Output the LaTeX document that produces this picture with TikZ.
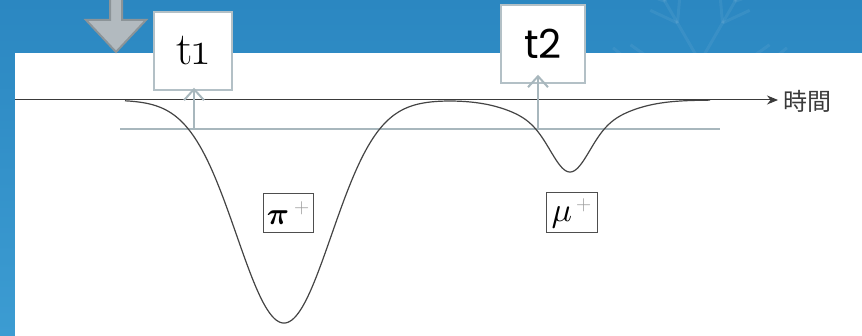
\documentclass[tikz,border=0pt]{standalone}
\usepackage{fix-cm}
\usepackage{bm}
\usepackage{fontspec}
\newfontfamily\cjk{Noto Sans CJK JP}
\newfontfamily\tonefont[Numbers=OldStyle]{Latin Modern Roman}
\newfontfamily\ttwofont{Poppins}
\usetikzlibrary{arrows.meta}
\definecolor{bgtop}{HTML}{2B87C1}
\definecolor{bgbot}{HTML}{3C9CD2}
\definecolor{paleline}{HTML}{A8B7BD}
\definecolor{boxedge}{HTML}{B3C0C6}
\definecolor{arrowfill}{HTML}{B2BABF}
\definecolor{arrowedge}{HTML}{8C9498}
\definecolor{axiscol}{HTML}{3A3A3A}
\definecolor{pluscol}{HTML}{9A9A9A}
\newcommand{\plusmark}{\raisebox{11pt}{\textcolor{pluscol}{\fontsize{21}{21}\selectfont +}}}
\tikzset{
  tbox/.style={draw=boxedge, line width=1.5pt, fill=white, inner sep=0pt},
  pbox/.style={draw=axiscol!90, line width=1pt, fill=white, inner sep=0pt,
    minimum width=50pt, minimum height=39pt},
  uparrow/.style={draw=paleline, line width=2pt, -{Straight Barb[length=11pt,width=20pt,line width=2pt]}},
  thresh/.style={draw=paleline, line width=2pt},
  axisline/.style={draw=axiscol, line width=1pt, -{Stealth[length=11pt,width=9pt]}},
  curveline/.style={draw=axiscol!95, line width=1.2pt},
  flake/.style={draw=white, opacity=0.06, line width=3pt},
  declare function={
    dipA(\x)=223*exp(-((\x-284)/67)*((\x-284)/67));
    dipB(\x)=42*exp(-((\x-570)/26)*((\x-570)/26))+30*exp(-((\x-570)/60)*((\x-570)/60));
  }
}
\begin{document}
\begin{tikzpicture}[x=1pt,y=-1pt]
\useasboundingbox (0,0) rectangle (862,336);
\shade[top color=bgtop,bottom color=bgbot] (0,0) rectangle (862,336);
% faint snowflake in the blue strip
\begin{scope}
\clip (560,0) rectangle (862,53);
\foreach \a in {0,60,...,300} {
  \draw[flake] (700,62) -- ++(\a:95);
  \draw[flake] (700,62) ++(\a:45) -- ++(\a+35:30);
  \draw[flake] (700,62) ++(\a:45) -- ++(\a-35:30);
  \draw[flake] (700,62) ++(\a:70) -- ++(\a+40:22);
  \draw[flake] (700,62) ++(\a:70) -- ++(\a-40:22);
}
\end{scope}
\fill[white] (15,53) rectangle (862,336);
% grey down arrow
\filldraw[fill=arrowfill,draw=arrowedge,line width=2pt,line join=miter]
  (110,-3) -- (122,-3) -- (122,20) -- (146,20) -- (116,52) -- (86,20) -- (110,20) -- cycle;
% time axis
\coordinate (axstart) at (15,100);
\node[inner sep=0pt, anchor=west, text=axiscol, font=\cjk\fontsize{24}{24}\selectfont] (time) at (783,101) {時間};
\draw[axisline] (axstart) -- ([xshift=-5pt]time.west |- axstart);
% threshold line
\coordinate (thl) at (120,129);
\coordinate (thr) at (720,129);
\draw[thresh] (thl) -- (thr);
% signal curve
\draw[curveline] plot[domain=125:710, samples=400, smooth] (\x, {100 + dipA(\x) + dipB(\x)});
% time boxes
\node[tbox, minimum width=78pt, minimum height=78pt, font=\tonefont\fontsize{46}{46}\selectfont] (t1) at (193,51) {t1};
\node[tbox, minimum width=84pt, minimum height=78pt, font=\ttwofont\fontsize{40}{40}\selectfont] (t2) at (543,44) {t2};
% up arrows
\coordinate (a1) at (194,129);
\coordinate (a2) at (538,129);
\draw[uparrow] (a1) -- ([yshift=3pt]a1 |- t1.south);
\draw[uparrow] (a2) -- ([yshift=9pt]a2 |- t2.south);
% particle labels
\node[pbox] (pi) at (288,213.5) {\scalebox{3.1}{$\bm{\pi}$}\hspace{5pt}\plusmark};
\node[pbox, minimum width=51pt, minimum height=40pt] (mu) at (571.5,213) {\scalebox{3.4}{$\mu$}\hspace{4pt}\plusmark};
\end{tikzpicture}
\end{document}
